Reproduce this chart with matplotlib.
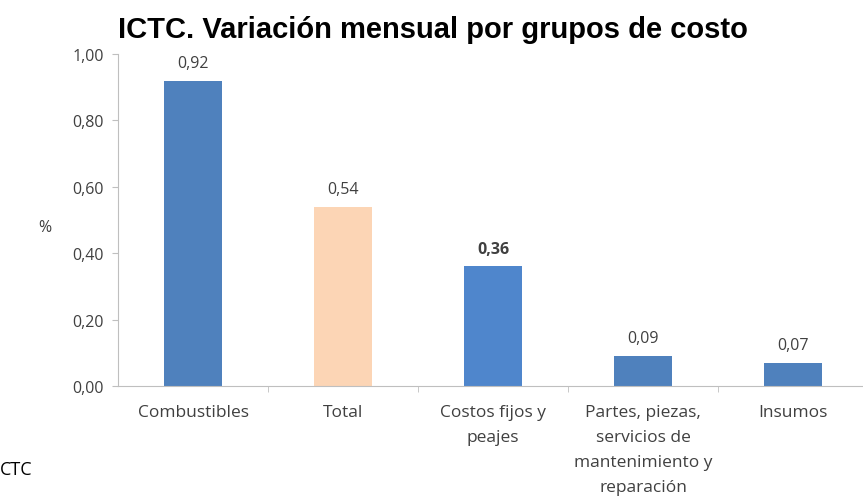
import matplotlib.pyplot as plt
import numpy as np

# datos del grafico
categorias = ["Combustibles", "Total", "Costos fijos y\npeajes",
              "Partes, piezas,\nservicios de\nmantenimiento y\nreparación", "Insumos"]
valores = [0.92, 0.54, 0.36, 0.09, 0.07]
etiquetas = ["0,92", "0,54", "0,36", "0,09", "0,07"]
colores = ["#4F81BD", "#FCD5B5", "#4F86CC", "#4F81BD", "#4F81BD"]
yticks = [0.0, 0.2, 0.4, 0.6, 0.8, 1.0]
ytick_labels = ["0,00", "0,20", "0,40", "0,60", "0,80", "1,00"]

plt.rcParams['font.family'] = ['Open Sans', 'DejaVu Sans']
gris = "#404040"

fig = plt.figure(figsize=(8.63, 5.02), dpi=100)
ax = fig.add_axes([118 / 863, 1 - 387 / 502, 750 / 863, 332 / 502])

x = np.arange(len(valores))
ax.bar(x, valores, width=0.39, color=colores)

for i, (v, t) in enumerate(zip(valores, etiquetas)):
    ax.text(i, v + 0.03, t, ha="center", va="bottom", fontsize=11.5, color=gris,
            fontweight="bold" if i == 2 else "normal")

ax.set_xlim(-0.5, 4.5)
ax.set_ylim(0, 1.0)
ax.set_yticks(yticks)
ax.set_yticklabels(ytick_labels, fontsize=11.5, color=gris)
ax.set_xticks(x)
ax.set_xticklabels(categorias, fontsize=12.5, color=gris, linespacing=1.75)
ax.tick_params(axis="x", length=0, pad=13)
ax.set_xticks(np.arange(0.5, 4.5, 1), minor=True)
ax.tick_params(axis="x", which="minor", length=4, color="#BFBFBF")
ax.tick_params(axis="y", length=4, color="#BFBFBF", pad=6)

for s in ["top", "right"]:
    ax.spines[s].set_visible(False)
ax.spines["left"].set_color("#BFBFBF")
ax.spines["bottom"].set_color("#BFBFBF")

fig.text(45 / 863, 1 - 228 / 502, "%", fontsize=11.5, color=gris, ha="center", va="center")
fig.text(433 / 863, 1 - 30 / 502, "ICTC. Variación mensual por grupos de costo",
         fontsize=21, fontweight="bold", family=["Liberation Sans", "DejaVu Sans"],
         ha="center", va="center")
fig.text(0.0, 1 - 470 / 502, "CTC", fontsize=13, color="black",
         ha="left", va="center")

fig.savefig("out.png", dpi=100)
